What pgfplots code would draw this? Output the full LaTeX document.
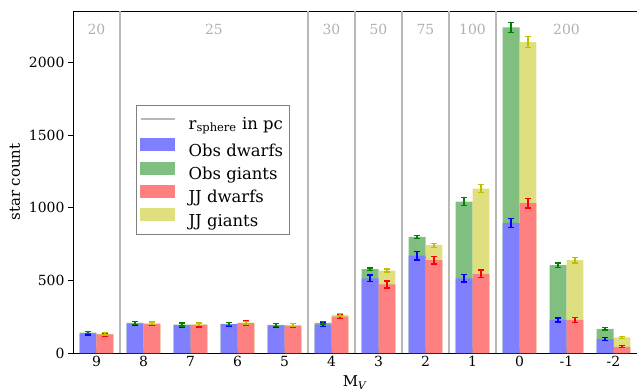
\documentclass[border=0pt]{standalone}
\usepackage{fontspec}
\setmainfont{DejaVu Serif}
\usepackage{pgfplots}
\usepackage{pgfplotstable}
\pgfplotsset{compat=1.18}

\definecolor{cB}{HTML}{8080FF}
\definecolor{cG}{HTML}{80BF80}
\definecolor{cR}{HTML}{FF8080}
\definecolor{cY}{HTML}{DFDF80}
\definecolor{eB}{HTML}{0000FF}
\definecolor{eG}{HTML}{008000}
\definecolor{eR}{HTML}{FF0000}
\definecolor{eY}{HTML}{BFBF00}
\definecolor{sepc}{HTML}{B8B8B8}
\definecolor{labc}{HTML}{B0B0B0}

% x: category index (M_V = 9 ... -2)
% od/ode: Obs dwarfs and error, og/oge: Obs giants and error of total
% jd/jde: JJ dwarfs and error, jg/jge: JJ giants and error of total
\pgfplotstableread{
x  od   ode og   oge jd   jde jg   jge
0  135  11  5    8   128  10  3    8
1  203  15  4    10  201  14  3    10
2  192  14  4    10  194  14  3    10
3  198  14  2    10  206  15  3    10
4  190  14  4    10  188  14  3    10
5  196  15  11   8   251  15  11   8
6  514  23  63   8   472  24  96   11
7  671  30  128  11  639  27  103  14
8  514  25  529  26  545  26  587  27
9  896  32  1346 36  1032 33  1108 37
10 228  14  377  14  228  16  411  20
11 96   10  70   8   43   7   64   9
}\data

\pgfplotstableread{
x    y
0.5  2355
4.5  2355
5.5  2355
6.5  2355
7.5  2355
8.5  2355
}\seps

\pgfplotsset{
  errb/.style={draw=none, mark=none, forget plot,
    error bars/.cd, y dir=both, y explicit,
    error bar style={draw=#1, line width=1.3bp},
    error mark options={draw=#1, rotate=90, mark size=2.7bp, line width=1.3bp}},
}

\begin{document}
\begin{tikzpicture}
\begin{axis}[
  scale only axis,
  width=564bp, height=342bp,
  xmin=-0.5, xmax=11.5,
  ymin=0, ymax=2355,
  xtick={0,...,11},
  xticklabels={9,8,7,6,5,4,3,2,1,0,-1,-2},
  ytick={0,500,1000,1500,2000},
  xtick pos=bottom,
  xtick align=inside,
  ytick align=outside,
  major tick length=5bp,
  tick style={black, line width=0.8bp},
  axis line style={line width=0.9bp},
  /pgf/number format/assume math mode=true,
  /pgf/number format/1000 sep={},
  tick label style={font=\fontsize{14}{16}\selectfont},
  every axis y label/.style={at={(axis description cs:-0.1028,0.5)}, anchor=center, rotate=90},
  every axis x label/.style={at={(axis description cs:0.5,-0.087)}, anchor=center},
  label style={font=\fontsize{15}{18}\selectfont},
  xlabel={M\textsubscript{\textit{V}}},
  ylabel={star count},
  legend style={at={(0.111,0.725)}, anchor=north west, draw=gray, line width=0.8bp,
    font=\fontsize{16.5}{19}\selectfont, row sep=2bp, inner xsep=4bp, inner ysep=3bp},
  legend cell align=left,
]
% separator lines (r_sphere bins)
\addplot[sepc, line width=1.5bp, ycomb, mark=none, forget plot] table[x=x, y=y] {\seps};

% totals (giants stacked on dwarfs)
\addplot[ybar, bar width=0.36, bar shift=-0.18, fill=cG, draw=none, forget plot]
  table[x=x, y expr=\thisrow{od}+\thisrow{og}] {\data};
\addplot[ybar, bar width=0.36, bar shift=0.18, fill=cY, draw=none, forget plot]
  table[x=x, y expr=\thisrow{jd}+\thisrow{jg}] {\data};
% dwarfs
\addplot[ybar, bar width=0.36, bar shift=-0.18, fill=cB, draw=none, forget plot]
  table[x=x, y=od] {\data};
\addplot[ybar, bar width=0.36, bar shift=0.18, fill=cR, draw=none, forget plot]
  table[x=x, y=jd] {\data};

% error bars
\addplot[errb=eB] table[x expr=\thisrow{x}-0.18, y=od, y error=ode] {\data};
\addplot[errb=eG] table[x expr=\thisrow{x}-0.18, y expr=\thisrow{od}+\thisrow{og}, y error=oge] {\data};
\addplot[errb=eR] table[x expr=\thisrow{x}+0.18, y=jd, y error=jde] {\data};
\addplot[errb=eY] table[x expr=\thisrow{x}+0.18, y expr=\thisrow{jd}+\thisrow{jg}, y error=jge] {\data};

% region labels
\begin{scope}[every node/.style={text=labc, font=\fontsize{14}{16}\selectfont}]
\node at (axis cs:0,2226) {20};
\node at (axis cs:2.5,2226) {25};
\node at (axis cs:5,2226) {30};
\node at (axis cs:6,2226) {50};
\node at (axis cs:7,2226) {75};
\node at (axis cs:8,2226) {100};
\node at (axis cs:10,2226) {200};
\end{scope}

% legend
\addlegendimage{legend image code/.code={\path (0bp,15bp) (45.5bp,-12bp);\draw[sepc, line width=1.5bp] (0bp,5bp) -- (34bp,5bp);}}
\addlegendentry{r\textsubscript{sphere} in pc}
\addlegendimage{legend image code/.code={\path (45.5bp,0bp);\fill[cB] (0bp,0bp) rectangle (34bp,12bp);}}
\addlegendentry{Obs dwarfs}
\addlegendimage{legend image code/.code={\path (45.5bp,0bp);\fill[cG] (0bp,0bp) rectangle (34bp,12bp);}}
\addlegendentry{Obs giants}
\addlegendimage{legend image code/.code={\path (45.5bp,0bp);\fill[cR] (0bp,0bp) rectangle (34bp,12bp);}}
\addlegendentry{JJ dwarfs}
\addlegendimage{legend image code/.code={\path (45.5bp,-10.5bp);\fill[cY] (0bp,0bp) rectangle (34bp,12bp);}}
\addlegendentry{JJ giants}

\coordinate (SW) at (rel axis cs:0,0);
\coordinate (NE) at (rel axis cs:1,1);
\end{axis}
\pgfresetboundingbox
\path ([xshift=-73bp,yshift=-38bp]SW) rectangle ([yshift=11bp]NE);
\end{tikzpicture}
\end{document}
